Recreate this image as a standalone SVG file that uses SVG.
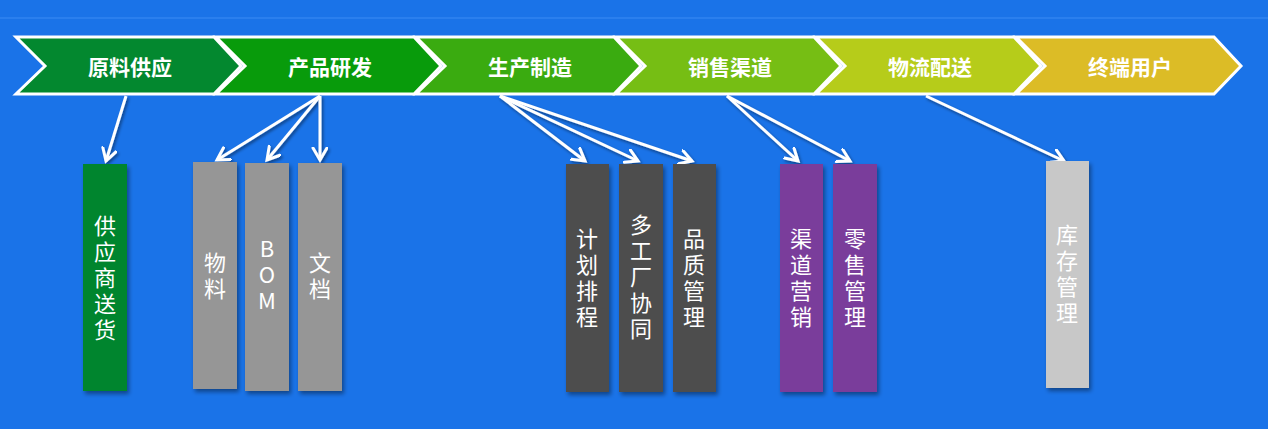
<svg xmlns="http://www.w3.org/2000/svg" width="1268" height="429" viewBox="0 0 1268 429">
<defs>
<style>
.chev{stroke:#ffffff;stroke-width:3;stroke-linejoin:miter}
.ctext{font-family:"Noto Sans CJK SC","Noto Sans",sans-serif;font-weight:bold;font-size:21px;fill:#ffffff;text-anchor:middle;dominant-baseline:central}
.vtext{font-family:"Noto Sans CJK SC","Noto Sans",sans-serif;font-weight:normal;font-size:22px;fill:#ffffff;writing-mode:vertical-rl;text-orientation:upright;letter-spacing:4px}
.conn{stroke:#ffffff;stroke-width:3;fill:none;marker-end:url(#arr)}
</style>
<filter id="sh" x="-30%" y="-10%" width="160%" height="130%">
<feDropShadow dx="2" dy="3" stdDeviation="2" flood-color="#000000" flood-opacity="0.4"/>
</filter>
<filter id="ash" x="-20%" y="-20%" width="140%" height="140%">
<feDropShadow dx="1.5" dy="2" stdDeviation="1.5" flood-color="#000000" flood-opacity="0.45"/>
</filter>
<marker id="arr" markerUnits="userSpaceOnUse" markerWidth="18" markerHeight="20" refX="13" refY="8" orient="auto">
<path d="M1,1 L13,8 L1,15" fill="none" stroke="#ffffff" stroke-width="3" stroke-linecap="round" stroke-linejoin="miter"/>
</marker>
</defs>
<rect x="0" y="0" width="1268" height="429" fill="#1a73e8"/>
<line x1="0" y1="18" x2="1268" y2="18" stroke="#3a8cf4" stroke-width="1"/>

<g id="stage1">
<polygon class="chev" fill="#03882f" points="16,37 214,37 241,66 214,94 16,94 45,66"/>
<text class="ctext" x="130" y="66">原料供应</text>
</g>
<g id="stage2">
<polygon class="chev" fill="#089b0b" points="216,37 414,37 441,66 414,94 216,94 245,66"/>
<text class="ctext" x="330" y="66">产品研发</text>
</g>
<g id="stage3">
<polygon class="chev" fill="#3aab10" points="416,37 614,37 641,66 614,94 416,94 445,66"/>
<text class="ctext" x="530" y="66">生产制造</text>
</g>
<g id="stage4">
<polygon class="chev" fill="#76be14" points="616,37 814,37 841,66 814,94 616,94 645,66"/>
<text class="ctext" x="730" y="66">销售渠道</text>
</g>
<g id="stage5">
<polygon class="chev" fill="#b6cc1a" points="816,37 1014,37 1041,66 1014,94 816,94 845,66"/>
<text class="ctext" x="930" y="66">物流配送</text>
</g>
<g id="stage6">
<polygon class="chev" fill="#dcbc26" points="1016,37 1214,37 1241,66 1214,94 1016,94 1045,66"/>
<text class="ctext" x="1130" y="66">终端用户</text>
</g>

<g id="connectors" filter="url(#ash)">
<line class="conn" x1="126" y1="96" x2="106" y2="161"/>
<line class="conn" x1="320" y1="96" x2="217" y2="160"/>
<line class="conn" x1="320" y1="96" x2="267" y2="160"/>
<line class="conn" x1="320" y1="96" x2="320" y2="160"/>
<line class="conn" x1="500" y1="96" x2="585" y2="161"/>
<line class="conn" x1="500" y1="96" x2="638" y2="161"/>
<line class="conn" x1="500" y1="96" x2="692" y2="161"/>
<line class="conn" x1="727" y1="96" x2="798" y2="161"/>
<line class="conn" x1="727" y1="96" x2="850" y2="161"/>
<line class="conn" x1="926" y1="96" x2="1064" y2="161"/>
</g>

<g id="supply">
<rect x="83" y="164" width="44" height="227" fill="#03852f" filter="url(#sh)"/>
<text class="vtext" x="105" y="215">供应商送货</text>
</g>
<g id="material">
<rect x="193" y="162" width="44" height="227" fill="#969696" filter="url(#sh)"/>
<text class="vtext" x="215" y="252">物料</text>
</g>
<g id="bom">
<rect x="245" y="163" width="44" height="228" fill="#969696" filter="url(#sh)"/>
<text class="vtext" x="267" y="238">BOM</text>
</g>
<g id="docs">
<rect x="298" y="163" width="44" height="228" fill="#969696" filter="url(#sh)"/>
<text class="vtext" x="320" y="252">文档</text>
</g>
<g id="planning">
<rect x="566" y="164" width="43" height="228" fill="#4d4d4d" filter="url(#sh)"/>
<text class="vtext" x="587" y="228">计划排程</text>
</g>
<g id="multifactory">
<rect x="619" y="164" width="44" height="228" fill="#4d4d4d" filter="url(#sh)"/>
<text class="vtext" x="641" y="214">多工厂协同</text>
</g>
<g id="quality">
<rect x="673" y="164" width="43" height="228" fill="#4d4d4d" filter="url(#sh)"/>
<text class="vtext" x="694" y="228">品质管理</text>
</g>
<g id="channel">
<rect x="780" y="164" width="43" height="228" fill="#7a3e9b" filter="url(#sh)"/>
<text class="vtext" x="801" y="228">渠道营销</text>
</g>
<g id="retail">
<rect x="833" y="164" width="44" height="228" fill="#7a3e9b" filter="url(#sh)"/>
<text class="vtext" x="855" y="228">零售管理</text>
</g>
<g id="inventory">
<rect x="1046" y="161" width="43" height="227" fill="#c8c8c8" filter="url(#sh)"/>
<text class="vtext" x="1067" y="224">库存管理</text>
</g>
</svg>
